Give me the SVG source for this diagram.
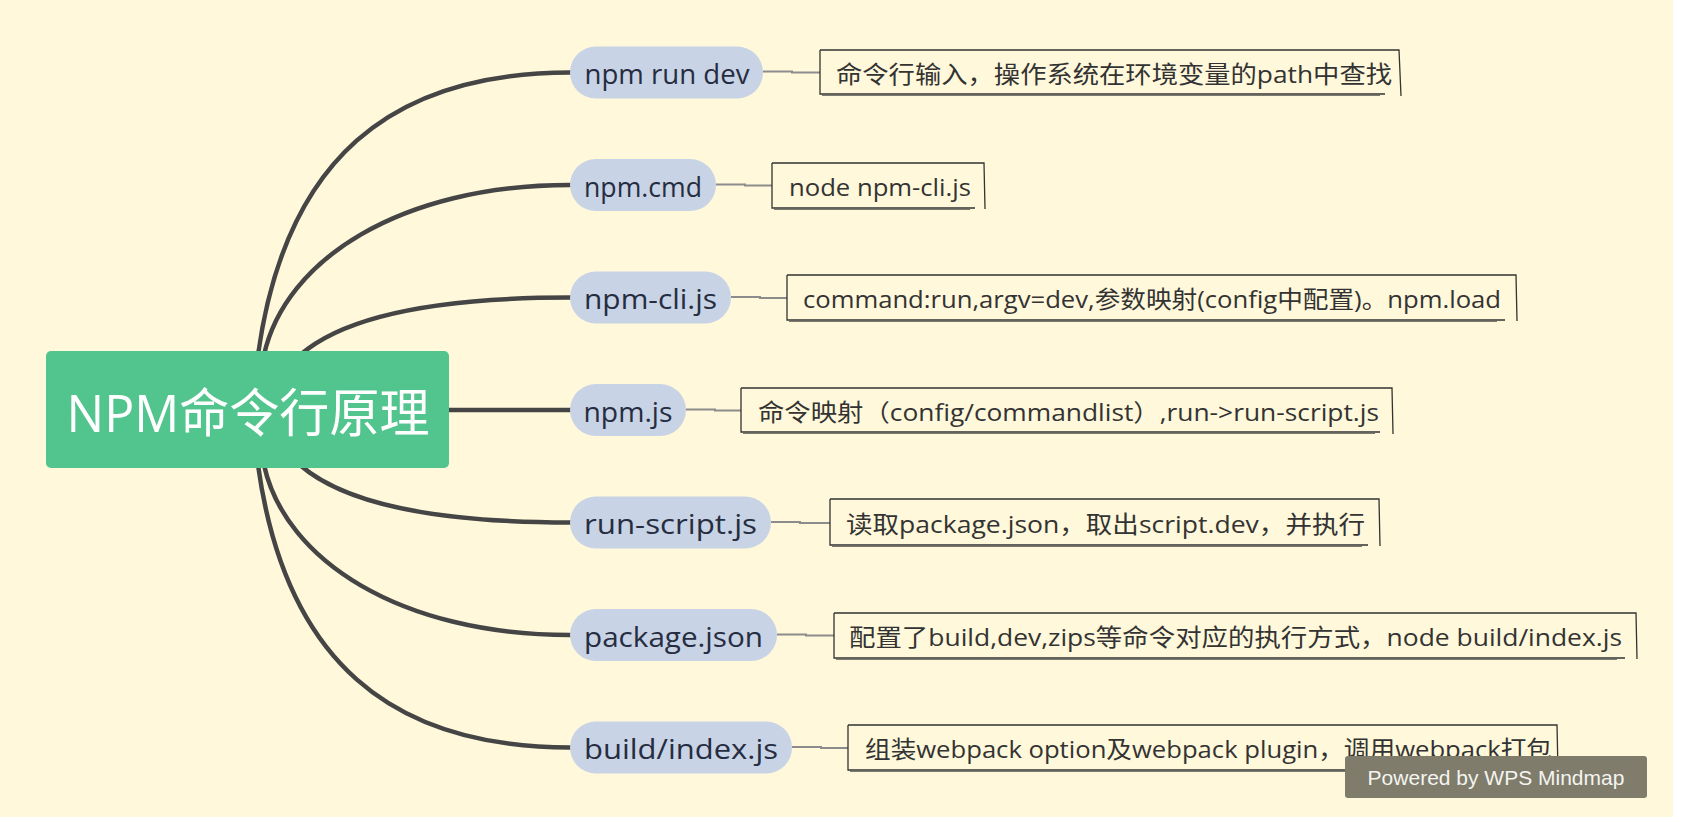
<svg xmlns="http://www.w3.org/2000/svg" width="1683" height="822" viewBox="0 0 1683 822">
<style>
.bg{fill:#FFF8DA}
.branch{fill:none;stroke:#454545;stroke-width:4.5;stroke-linecap:round}
.link{fill:none;stroke:#8C8C8C;stroke-width:2}
.pill{fill:#C8D3E6}
.ptxt{font-family:"Open Sans","Noto Sans CJK SC",sans-serif;font-size:28px;fill:#262D40;text-anchor:middle}
.box{fill:none;stroke:#333;stroke-width:1.3}
.sk{fill:none;stroke:#7a7a70;stroke-width:1.2}
.btxt{font-family:"Open Sans","Noto Sans CJK SC",sans-serif;font-size:24px;fill:#333}
.root{fill:#52C48D}
.rtxt{font-family:"Open Sans","Noto Sans CJK SC",sans-serif;font-size:52px;fill:#fff;text-anchor:middle}
.wm{fill:#7F7C6C}
.wmt{font-family:"Liberation Sans",Arial,sans-serif;font-size:21px;fill:#F4F4F0;text-anchor:middle}
</style>
<rect x="0" y="0" width="1683" height="822" fill="#ffffff"/>
<rect class="bg" x="0" y="0" width="1673" height="817"/>
<g id="connectors">
<path class="branch" d="M258,355 C285,160 390,72.5 570,72.5"/>
<path class="branch" d="M264,355 C285,260 400,185 570,185"/>
<path class="branch" d="M300,355 C340,320 420,297.5 570,297.5"/>
<path class="branch" d="M440,410 L570,410"/>
<path class="branch" d="M300,465 C340,500 420,522.5 570,522.5"/>
<path class="branch" d="M264,465 C285,560 400,635 570,635"/>
<path class="branch" d="M258,465 C285,660 390,747.5 570,747.5"/>
<path class="link" d="M763,71.5 L792,71.5 L792,72.5 L820,72.5"/>
<path class="link" d="M716,184.5 L745,184.5 L745,185.5 L772,185.5"/>
<path class="link" d="M731,297 L760,297 L760,298 L787,298"/>
<path class="link" d="M686,409.5 L715,409.5 L715,410.5 L741,410.5"/>
<path class="link" d="M771,522 L800,522 L800,523 L830,523"/>
<path class="link" d="M777,634.5 L806,634.5 L806,635.5 L834,635.5"/>
<path class="link" d="M792,747 L821,747 L821,748 L848,748"/>
</g>
<g id="root">
<rect class="root" x="46" y="351" width="403" height="117" rx="5"/>
<text class="rtxt" x="248" y="432" textLength="363" lengthAdjust="spacingAndGlyphs">NPM命令行原理</text>
</g>
<g id="n1">
<rect class="pill" x="570" y="46.5" width="193" height="52" rx="26"/>
<text class="ptxt" x="667" y="84" textLength="165" lengthAdjust="spacingAndGlyphs">npm run dev</text>
<path class="box" d="M820,50 L1399,50 L1401,96 M820,50 L820,94 L1385,94"/>
<path class="sk" d="M822,95.5 L1380,95.5"/>
<text class="btxt" x="836" y="82.5" textLength="556" lengthAdjust="spacingAndGlyphs">命令行输入，操作系统在环境变量的path中查找</text>
</g>
<g id="n2">
<rect class="pill" x="570" y="159" width="146" height="52" rx="26"/>
<text class="ptxt" x="643" y="196.5" textLength="118" lengthAdjust="spacingAndGlyphs">npm.cmd</text>
<path class="box" d="M772,163 L984,163 L985,209 M772,163 L772,208 L975,208"/>
<path class="sk" d="M774,209.5 L970,209.5"/>
<text class="btxt" x="789" y="195.5" textLength="182" lengthAdjust="spacingAndGlyphs">node npm-cli.js</text>
</g>
<g id="n3">
<rect class="pill" x="570" y="271.5" width="161" height="52" rx="26"/>
<text class="ptxt" x="650.5" y="309" textLength="133" lengthAdjust="spacingAndGlyphs">npm-cli.js</text>
<path class="box" d="M787,275 L1516,275 L1517,321 M787,275 L787,320 L1505,320"/>
<path class="sk" d="M789,321.5 L1497,321.5"/>
<text class="btxt" x="803" y="307.5" textLength="698" lengthAdjust="spacingAndGlyphs">command:run,argv=dev,参数映射(config中配置)。npm.load</text>
</g>
<g id="n4">
<rect class="pill" x="570" y="384" width="116" height="52" rx="26"/>
<text class="ptxt" x="628" y="421.5" textLength="89" lengthAdjust="spacingAndGlyphs">npm.js</text>
<path class="box" d="M741,388 L1392,388 L1393,434 M741,388 L741,432 L1380,432"/>
<path class="sk" d="M743,433.5 L1375,433.5"/>
<text class="btxt" x="758" y="420.5" textLength="621" lengthAdjust="spacingAndGlyphs">命令映射（config/commandlist）,run-&gt;run-script.js</text>
</g>
<g id="n5">
<rect class="pill" x="570" y="496.5" width="201" height="52" rx="26"/>
<text class="ptxt" x="670.5" y="534" textLength="173" lengthAdjust="spacingAndGlyphs">run-script.js</text>
<path class="box" d="M830,499 L1379,499 L1380,546 M830,499 L830,545 L1368,545"/>
<path class="sk" d="M832,546.5 L1362,546.5"/>
<text class="btxt" x="846" y="532.5" textLength="519" lengthAdjust="spacingAndGlyphs">读取package.json，取出script.dev，并执行</text>
</g>
<g id="n6">
<rect class="pill" x="570" y="609" width="207" height="52" rx="26"/>
<text class="ptxt" x="673.5" y="646.5" textLength="179" lengthAdjust="spacingAndGlyphs">package.json</text>
<path class="box" d="M834,613 L1636,613 L1637,659 M834,613 L834,658 L1625,658"/>
<path class="sk" d="M836,659.5 L1617,659.5"/>
<text class="btxt" x="849" y="645.5" textLength="773" lengthAdjust="spacingAndGlyphs">配置了build,dev,zips等命令对应的执行方式，node build/index.js</text>
</g>
<g id="n7">
<rect class="pill" x="570" y="721.5" width="222" height="52" rx="26"/>
<text class="ptxt" x="681" y="759" textLength="194" lengthAdjust="spacingAndGlyphs">build/index.js</text>
<path class="box" d="M848,725 L1557,725 L1558,771 M848,725 L848,770 L1547,770"/>
<path class="sk" d="M850,771.5 L1540,771.5"/>
<text class="btxt" x="865" y="757.5" textLength="687" lengthAdjust="spacingAndGlyphs">组装webpack option及webpack plugin，调用webpack打包</text>
</g>
<g id="watermark">
<rect class="wm" x="1345" y="756" width="302" height="42" rx="3"/>
<text class="wmt" x="1496" y="784.5">Powered by WPS Mindmap</text>
</g>
</svg>
